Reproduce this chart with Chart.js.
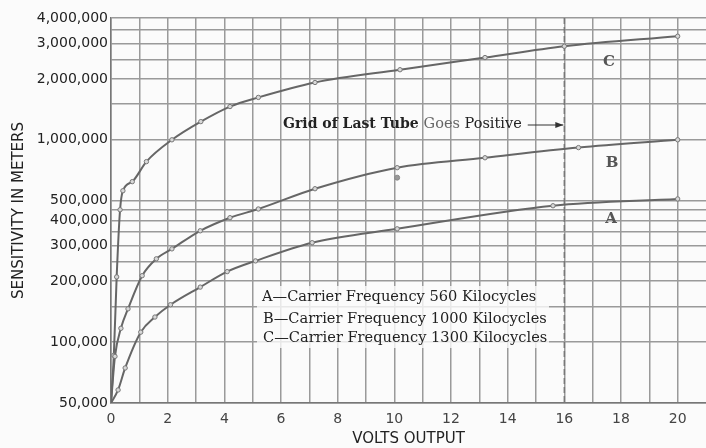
<!DOCTYPE html>
<html>
<head>
<meta charset="utf-8">
<script src="https://cdn.jsdelivr.net/npm/chart.js@4.4.1/dist/chart.umd.min.js"></script>
<style>
  html, body { margin: 0; padding: 0; background: #fbfbfb; }
  canvas { display: block; }
</style>
</head>
<body>
<canvas id="sensitivity" width="706" height="448"></canvas>
<script>
// curve A - carrier 560 kc
const voltsA = [0, 0.25, 0.5, 1.05, 1.55, 2.1, 3.15, 4.1, 5.1, 7.1, 10.1, 15.6, 20];
const sensA = [50000, 58000, 74500, 112000, 133000, 153000, 187000, 223000, 252000, 310000, 363000, 472000, 510000];

// curve B - carrier 1000 kc
const voltsB = [0, 0.14, 0.35, 0.6, 1.1, 1.6, 2.15, 3.15, 4.2, 5.2, 7.2, 10.1, 13.2, 16.5, 20];
const sensB = [50000, 85000, 117000, 146000, 213000, 258000, 289000, 355000, 412000, 455000, 573000, 728000, 815000, 915000, 1000000];

// stray reading on B that the curve does not pass through
const strayVoltsB = [10.1];
const straySensB = [650000];

// curve C - carrier 1300 kc
const voltsC = [0, 0.1, 0.2, 0.32, 0.42, 0.75, 1.25, 2.15, 3.17, 4.2, 5.2, 7.2, 10.2, 13.2, 16, 20];
const sensC = [50000, 86000, 210000, 451000, 560000, 621000, 780000, 1000000, 1230000, 1460000, 1620000, 1920000, 2220000, 2550000, 2900000, 3250000];

// axis
const yGridValues = [50000, 100000, 150000, 200000, 250000, 300000, 350000, 400000, 450000, 500000,
  1000000, 1500000, 2000000, 2500000, 3000000, 3500000, 4000000];
const yLabelValues = [50000, 100000, 200000, 300000, 400000, 500000, 1000000, 2000000, 3000000, 4000000];
const xLabelValues = [0, 2, 4, 6, 8, 10, 12, 14, 16, 18, 20];

const legendLines = [
  "A\u2014Carrier Frequency 560 Kilocycles",
  "B\u2014Carrier Frequency 1000 Kilocycles",
  "C\u2014Carrier Frequency 1300 Kilocycles",
];

const curveColor = "#666";
const gridColor = "#9a9a9a";
const serif = "'DejaVu Serif'";

function pts(xs, ys) {
  return xs.map((x, i) => ({ x: x, y: ys[i] }));
}

function curve(label, xs, ys) {
  return {
    label: label,
    data: pts(xs, ys),
    borderColor: curveColor,
    borderWidth: 2,
    cubicInterpolationMode: "monotone",
    pointRadius: (ctx) => (ctx.dataIndex === 0 ? 0 : 2.2),
    pointBackgroundColor: "#d8d8d8",
    pointBorderColor: "#777",
    pointBorderWidth: 1,
  };
}

const notes = {
  id: "notes",
  beforeDatasetsDraw(chart) {
    const ctx = chart.ctx;
    const xs = chart.scales.x;
    const { top, bottom } = chart.chartArea;
    // dashed line where grid of last tube goes positive
    const x16 = xs.getPixelForValue(16);
    ctx.save();
    ctx.strokeStyle = "#777";
    ctx.lineWidth = 1.5;
    ctx.setLineDash([6, 3]);
    ctx.beginPath();
    ctx.moveTo(x16, top);
    ctx.lineTo(x16, bottom);
    ctx.stroke();
    ctx.setLineDash([]);

    // legend box
    ctx.fillStyle = "rgba(251,251,251,0.8)";
    ctx.fillRect(257, 286, 292, 62);
    ctx.restore();
  },
  afterDatasetsDraw(chart) {
    const ctx = chart.ctx;
    const xs = chart.scales.x;
    const x16 = xs.getPixelForValue(16);
    ctx.save();
    ctx.textBaseline = "middle";
    ctx.fillStyle = "#222";

    // Grid of Last Tube Goes Positive -->
    const ty = 124;
    ctx.font = "bold 14px " + serif;
    ctx.fillText("Grid of Last Tube", 283, ty);
    let w = ctx.measureText("Grid of Last Tube ").width;
    ctx.font = "14.5px " + serif;
    ctx.fillStyle = "#666";
    ctx.fillText("Goes", 283 + w, ty);
    let w2 = ctx.measureText("Goes ").width;
    ctx.fillStyle = "#222";
    ctx.fillText("Positive", 283 + w + w2, ty);
    const endText = 283 + w + w2 + ctx.measureText("Positive").width;
    ctx.strokeStyle = "#333";
    ctx.lineWidth = 1.2;
    ctx.beginPath();
    ctx.moveTo(endText + 6, ty + 1);
    ctx.lineTo(x16 - 1, ty + 1);
    ctx.stroke();
    ctx.beginPath();
    ctx.moveTo(x16 - 1, ty + 1);
    ctx.lineTo(x16 - 9, ty - 2);
    ctx.lineTo(x16 - 9, ty + 4);
    ctx.closePath();
    ctx.fillStyle = "#333";
    ctx.fill();

    // curve letters
    ctx.font = "bold 15px " + serif;
    ctx.fillStyle = "#555";
    ctx.textAlign = "center";
    ctx.fillText("C", 609, 62);
    ctx.fillText("B", 612, 163);
    ctx.fillText("A", 611, 219);

    // legend
    ctx.textAlign = "left";
    ctx.font = "14.6px " + serif;
    ctx.fillStyle = "#222";
    ctx.fillText(legendLines[0], 262, 297);
    ctx.fillText(legendLines[1], 263, 319);
    ctx.fillText(legendLines[2], 263, 338);
    ctx.restore();
  },
};

new Chart(document.getElementById("sensitivity"), {
  type: "line",
  plugins: [notes],
  data: {
    datasets: [
      curve("A", voltsA, sensA),
      curve("B", voltsB, sensB),
      curve("C", voltsC, sensC),
      {
        label: "B stray",
        data: pts(strayVoltsB, straySensB),
        showLine: false,
        pointRadius: 2.5,
        pointBackgroundColor: "#999",
        pointBorderColor: "#888",
        pointBorderWidth: 1,
      },
    ],
  },
  options: {
    responsive: false,
    animation: false,
    layout: { autoPadding: false, padding: { top: 18, right: 0, bottom: 0, left: 0 } },
    plugins: {
      legend: { display: false },
      tooltip: { enabled: false },
    },
    scales: {
      x: {
        type: "linear",
        min: 0,
        max: 21,
        afterFit: (scale) => {
          scale.height = 45;
          scale.paddingLeft = 0;
          scale.paddingRight = 0;
        },
        ticks: {
          stepSize: 1,
          autoSkip: false,
          maxRotation: 0,
          padding: 8,
          color: "#444",
          font: { family: "'DejaVu Sans'", size: 14 },
          callback: (v) => (xLabelValues.includes(v) ? String(v) : ""),
        },
        grid: {
          drawTicks: false,
          lineWidth: 1.5,
          color: (ctx) => (ctx.tick && ctx.tick.value > 20 ? "rgba(0,0,0,0)" : gridColor),
        },
        border: { color: "#777", width: 1.5 },
        title: {
          display: true,
          text: "VOLTS OUTPUT",
          color: "#222",
          font: { family: "'DejaVu Sans'", size: 15 },
          padding: { top: 0, bottom: 0 },
        },
      },
      y: {
        type: "logarithmic",
        min: 50000,
        max: 4000000,
        afterFit: (scale) => {
          scale.width = 111;
          scale.paddingTop = 0;
          scale.paddingBottom = 0;
        },
        afterBuildTicks: (scale) => {
          scale.ticks = yGridValues.map((v) => ({ value: v }));
        },
        ticks: {
          autoSkip: false,
          padding: 3,
          color: "#222",
          font: { family: "'DejaVu Sans'", size: 14 },
          callback: (v) => (yLabelValues.includes(v) ? v.toLocaleString("en-US") : ""),
        },
        grid: { drawTicks: false, lineWidth: 1.5, color: gridColor },
        border: { color: "#777", width: 1.5 },
        title: {
          display: true,
          text: "SENSITIVITY IN METERS",
          color: "#222",
          font: { family: "'DejaVu Sans'", size: 15 },
          padding: { top: 10, bottom: 0 },
        },
      },
    },
  },
});
</script>
</body>
</html>
